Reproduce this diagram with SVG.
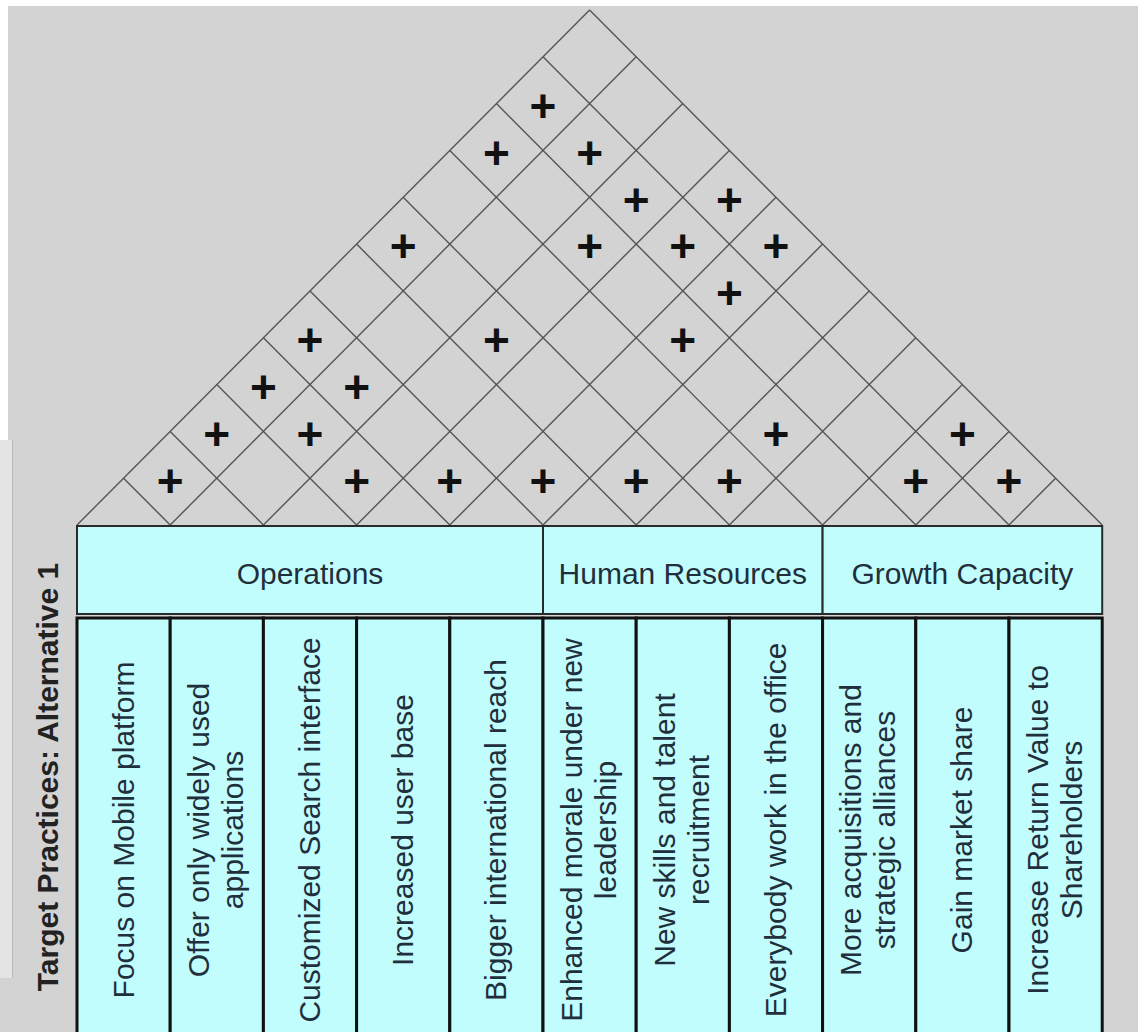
<svg xmlns="http://www.w3.org/2000/svg" width="1138" height="1032" viewBox="0 0 1138 1032">
<style>
.bg{fill:#d3d3d3}
.grid line{stroke:#555;stroke-width:1.4}
.plus{font-family:"Liberation Sans",Arial,sans-serif;font-weight:bold;font-size:46px;fill:#111;text-anchor:middle}
.hdr{fill:#c2fdfd;stroke:#2a2a2a;stroke-width:2}
.col{fill:#c2fdfd;stroke:#111;stroke-width:3}
.ht{font-family:"Liberation Sans",Arial,sans-serif;font-size:30px;fill:#1f2f3c;text-anchor:middle}
.ct{font-family:"Liberation Sans",Arial,sans-serif;font-size:30px;fill:#1f2f3c;text-anchor:middle}
.title{font-family:"Liberation Sans",Arial,sans-serif;font-size:30px;font-weight:bold;fill:#222;text-anchor:middle}
</style>
<rect class="bg" x="0" y="0" width="1138" height="1032"/>
<rect x="0" y="0" width="1138" height="6" fill="#fff"/>
<rect x="0" y="0" width="8" height="440" fill="#fff"/>
<rect x="0" y="440" width="12" height="538" fill="#e4e4e4"/>
<line x1="12.5" y1="440" x2="12.5" y2="978" stroke="#b8b8b8" stroke-width="1"/>

<g id="connectors" class="grid">
<!-- up-right lines from base points x_i to right edge -->
<line x1="77" y1="525" x2="589.6" y2="10"/>
<line x1="170.2" y1="525" x2="636.2" y2="56.8"/>
<line x1="263.4" y1="525" x2="682.8" y2="103.6"/>
<line x1="356.6" y1="525" x2="729.4" y2="150.5"/>
<line x1="449.8" y1="525" x2="776" y2="197.3"/>
<line x1="543" y1="525" x2="822.6" y2="244.1"/>
<line x1="636.2" y1="525" x2="869.2" y2="290.9"/>
<line x1="729.4" y1="525" x2="915.8" y2="337.7"/>
<line x1="822.6" y1="525" x2="962.4" y2="384.6"/>
<line x1="915.8" y1="525" x2="1009" y2="431.4"/>
<line x1="1009" y1="525" x2="1055.6" y2="478.2"/>
<!-- up-left lines from base points x_j to left edge -->
<line x1="1102.2" y1="525" x2="589.6" y2="10"/>
<line x1="1009" y1="525" x2="543" y2="56.8"/>
<line x1="915.8" y1="525" x2="496.4" y2="103.6"/>
<line x1="822.6" y1="525" x2="449.8" y2="150.5"/>
<line x1="729.4" y1="525" x2="403.2" y2="197.3"/>
<line x1="636.2" y1="525" x2="356.6" y2="244.1"/>
<line x1="543" y1="525" x2="310" y2="290.9"/>
<line x1="449.8" y1="525" x2="263.4" y2="337.7"/>
<line x1="356.6" y1="525" x2="216.8" y2="384.6"/>
<line x1="263.4" y1="525" x2="170.2" y2="431.4"/>
<line x1="170.2" y1="525" x2="123.6" y2="478.2"/>
</g>

<g id="relations">
<text class="plus" x="170.2" y="497">+</text>
<text class="plus" x="356.6" y="497">+</text>
<text class="plus" x="449.8" y="497">+</text>
<text class="plus" x="543" y="497">+</text>
<text class="plus" x="636.2" y="497">+</text>
<text class="plus" x="729.4" y="497">+</text>
<text class="plus" x="915.8" y="497">+</text>
<text class="plus" x="1009" y="497">+</text>
<text class="plus" x="216.8" y="450">+</text>
<text class="plus" x="310" y="450">+</text>
<text class="plus" x="776" y="450">+</text>
<text class="plus" x="962.4" y="450">+</text>
<text class="plus" x="263.4" y="403">+</text>
<text class="plus" x="356.6" y="403">+</text>
<text class="plus" x="310" y="356">+</text>
<text class="plus" x="496.4" y="356">+</text>
<text class="plus" x="682.8" y="356">+</text>
<text class="plus" x="729.4" y="309">+</text>
<text class="plus" x="403.2" y="262">+</text>
<text class="plus" x="589.6" y="262">+</text>
<text class="plus" x="682.8" y="262">+</text>
<text class="plus" x="776" y="262">+</text>
<text class="plus" x="636.2" y="216">+</text>
<text class="plus" x="729.4" y="216">+</text>
<text class="plus" x="496.4" y="169">+</text>
<text class="plus" x="589.6" y="169">+</text>
<text class="plus" x="543" y="122">+</text>
</g>

<g id="header-operations">
<rect class="hdr" x="77" y="526" width="466" height="88"/>
<text class="ht" x="310" y="584">Operations</text>
</g>
<g id="header-human-resources">
<rect class="hdr" x="543" y="526" width="279.6" height="88"/>
<text class="ht" x="682.8" y="584">Human Resources</text>
</g>
<g id="header-growth-capacity">
<rect class="hdr" x="822.6" y="526" width="279.6" height="88"/>
<text class="ht" x="962.4" y="584">Growth Capacity</text>
</g>

<g id="col1"><rect class="col" x="77" y="618" width="93.2" height="440"/>
<text class="ct" transform="translate(133.6,830) rotate(-90)">Focus on Mobile platform</text></g>
<g id="col2"><rect class="col" x="170.2" y="618" width="93.2" height="440"/>
<text class="ct" transform="translate(216.8,830) rotate(-90)"><tspan x="0" y="-8">Offer only widely used</tspan><tspan x="0" y="26">applications</tspan></text></g>
<g id="col3"><rect class="col" x="263.4" y="618" width="93.2" height="440"/>
<text class="ct" transform="translate(320,830) rotate(-90)">Customized Search interface</text></g>
<g id="col4"><rect class="col" x="356.6" y="618" width="93.2" height="440"/>
<text class="ct" transform="translate(413.2,830) rotate(-90)">Increased user base</text></g>
<g id="col5"><rect class="col" x="449.8" y="618" width="93.2" height="440"/>
<text class="ct" transform="translate(506.4,830) rotate(-90)">Bigger international reach</text></g>
<g id="col6"><rect class="col" x="543" y="618" width="93.2" height="440"/>
<text class="ct" transform="translate(589.6,830) rotate(-90)"><tspan x="0" y="-8">Enhanced morale under new</tspan><tspan x="0" y="26">leadership</tspan></text></g>
<g id="col7"><rect class="col" x="636.2" y="618" width="93.2" height="440"/>
<text class="ct" transform="translate(682.8,830) rotate(-90)"><tspan x="0" y="-8">New skills and talent</tspan><tspan x="0" y="26">recruitment</tspan></text></g>
<g id="col8"><rect class="col" x="729.4" y="618" width="93.2" height="440"/>
<text class="ct" transform="translate(786,830) rotate(-90)">Everybody work in the office</text></g>
<g id="col9"><rect class="col" x="822.6" y="618" width="93.2" height="440"/>
<text class="ct" transform="translate(869.2,830) rotate(-90)"><tspan x="0" y="-8">More acquisitions and</tspan><tspan x="0" y="26">strategic alliances</tspan></text></g>
<g id="col10"><rect class="col" x="915.8" y="618" width="93.2" height="440"/>
<text class="ct" transform="translate(972.4,830) rotate(-90)">Gain market share</text></g>
<g id="col11"><rect class="col" x="1009" y="618" width="93.2" height="440"/>
<text class="ct" transform="translate(1055.6,830) rotate(-90)"><tspan x="0" y="-8">Increase Return Value to</tspan><tspan x="0" y="26">Shareholders</tspan></text></g>

<g id="title">
<text class="title" transform="translate(58,777) rotate(-90)">Target Practices: Alternative 1</text>
</g>
</svg>
